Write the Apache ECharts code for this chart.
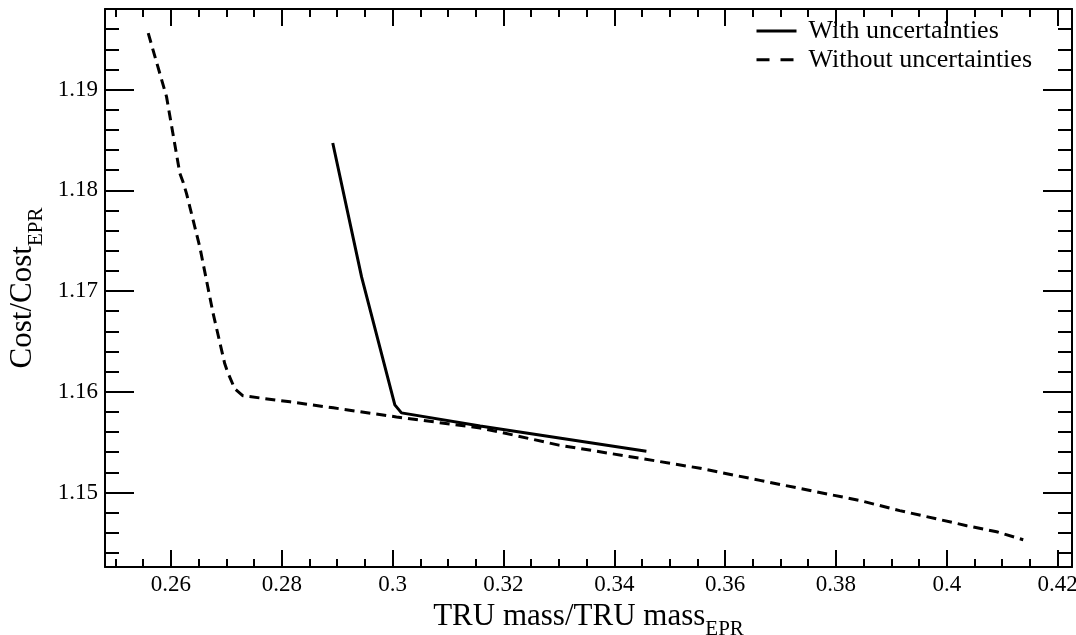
<!DOCTYPE html>
<html>
<head>
<meta charset="utf-8">
<script src="https://cdn.jsdelivr.net/npm/echarts@6/dist/echarts.min.js"></script>
<style>
  html, body { margin: 0; padding: 0; background: #fff; }
  #chart { width: 1076px; height: 635px; }
</style>
</head>
<body>
<div id="chart"></div>
<script>
  // TRU mass ratio (x) and cost ratio (y)
  const withUncX = [0.2892, 0.2944, 0.3004, 0.3016, 0.3158, 0.3458]
  const withUncY = [1.1847, 1.1714, 1.1587, 1.1579, 1.1566, 1.1541]

  const noUncX = [0.2559, 0.2571, 0.2592, 0.2616, 0.2622, 0.2628, 0.2652, 0.2676, 0.2697, 0.2702,
    0.2715, 0.2730, 0.2815, 0.2893, 0.3007, 0.3158, 0.3218, 0.3300, 0.3446, 0.3555,
    0.3663, 0.3735, 0.3843, 0.3915, 0.3988, 0.4036, 0.4090, 0.4138]
  const noUncY = [1.1956, 1.1933, 1.1893, 1.1817, 1.1808, 1.1797, 1.1744, 1.1678, 1.1628, 1.1620,
    1.1603, 1.1596, 1.1590, 1.1584, 1.1575, 1.1564, 1.1557, 1.1547, 1.1534, 1.1524,
    1.1512, 1.1504, 1.1492, 1.1482, 1.1473, 1.1467, 1.1461, 1.1453]

  // ticks
  const xMajor = [0.26, 0.28, 0.3, 0.32, 0.34, 0.36, 0.38, 0.4, 0.42]
  const xMinor = [0.25, 0.255, 0.265, 0.27, 0.275, 0.285, 0.29, 0.295, 0.305, 0.31, 0.315,
    0.325, 0.33, 0.335, 0.345, 0.35, 0.355, 0.365, 0.37, 0.375, 0.385, 0.39, 0.395,
    0.405, 0.41, 0.415]
  const yMajor = [1.15, 1.16, 1.17, 1.18, 1.19]
  const yMinor = [1.144, 1.146, 1.148, 1.152, 1.154, 1.156, 1.158, 1.162, 1.164, 1.166, 1.168,
    1.172, 1.174, 1.176, 1.178, 1.182, 1.184, 1.186, 1.188, 1.192, 1.194, 1.196]

  const xRange = [0.2481, 0.4226]
  const yRange = [1.1426, 1.198]

  const font = 'Liberation Serif'

  function pairs(xs, ys) {
    return xs.map((x, i) => [x, ys[i]])
  }

  function xAxisDef(pos, ticks, len, main) {
    return {
      type: 'value', position: pos, min: xRange[0], max: xRange[1],
      axisLine: {show: main, onZero: false, lineStyle: {color: '#000', width: 2}},
      axisTick: {show: true, inside: true, length: len, customValues: ticks, lineStyle: {color: '#000', width: 2}},
      axisLabel: {show: main && pos === 'bottom', customValues: xMajor, margin: 6,
        color: '#000', fontFamily: font, fontSize: 23},
      splitLine: {show: false}
    }
  }

  function yAxisDef(pos, ticks, len, main) {
    return {
      type: 'value', position: pos, min: yRange[0], max: yRange[1],
      axisLine: {show: main, onZero: false, lineStyle: {color: '#000', width: 2}},
      axisTick: {show: true, inside: true, length: len, customValues: ticks, lineStyle: {color: '#000', width: 2}},
      axisLabel: {show: main && pos === 'left', customValues: yMajor, margin: 7,
        color: '#000', fontFamily: font, fontSize: 23},
      splitLine: {show: false}
    }
  }

  const titleRich = {
    a: {fontFamily: font, fontSize: 31, color: '#000', verticalAlign: 'bottom', padding: [0, 0, 8, 0]},
    b: {fontFamily: font, fontSize: 21, color: '#000', verticalAlign: 'bottom'}
  }

  const xAxes = [
    xAxisDef('bottom', xMajor, 17, true),
    xAxisDef('bottom', xMinor, 8, false),
    xAxisDef('top', xMajor, 17, true),
    xAxisDef('top', xMinor, 8, false)
  ]
  Object.assign(xAxes[0], {
    name: '{a|TRU mass/TRU mass}{b|EPR}',
    nameLocation: 'middle',
    nameGap: 31,
    nameTextStyle: {rich: titleRich}
  })

  const yAxes = [
    yAxisDef('left', yMajor, 29, true),
    yAxisDef('left', yMinor, 14, false),
    yAxisDef('right', yMajor, 29, true),
    yAxisDef('right', yMinor, 14, false)
  ]
  Object.assign(yAxes[0], {
    name: '{a|Cost/Cost}{b|EPR}',
    nameLocation: 'middle',
    nameGap: 58,
    nameTextStyle: {rich: titleRich}
  })

  const chart = echarts.init(document.getElementById('chart'))
  chart.setOption({
    animation: false,
    backgroundColor: '#fff',
    grid: {left: 105, right: 4, top: 9, bottom: 68, containLabel: false, outerBoundsMode: 'none'},
    legend: {
      orient: 'vertical',
      left: 750,
      top: 13,
      itemWidth: 40,
      itemHeight: 14,
      itemGap: 2.7,
      textStyle: {fontFamily: font, fontSize: 26, color: '#000', lineHeight: 24, padding: [0, 0, 0, 7]},
      data: [
        {name: 'With uncertainties', itemStyle: {opacity: 0}, lineStyle: {type: 'solid', width: 3}},
        {name: 'Without uncertainties', itemStyle: {opacity: 0}, lineStyle: {type: [13, 11], width: 3}}
      ]
    },
    xAxis: xAxes,
    yAxis: yAxes,
    series: [
      {
        name: 'With uncertainties',
        type: 'line',
        data: pairs(withUncX, withUncY),
        symbol: 'none',
        lineStyle: {color: '#000', width: 3},
        itemStyle: {color: '#000'}
      },
      {
        name: 'Without uncertainties',
        type: 'line',
        data: pairs(noUncX, noUncY),
        symbol: 'none',
        lineStyle: {color: '#000', width: 3, type: [10, 6]},
        itemStyle: {color: '#000'}
      }
    ]
  })
</script>
</body>
</html>
